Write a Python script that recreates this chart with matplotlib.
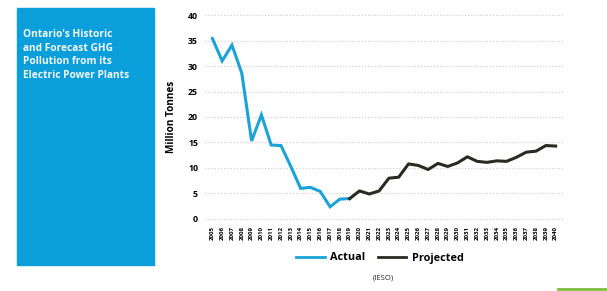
import numpy as np
import matplotlib.pyplot as plt
from matplotlib.patches import Rectangle
from matplotlib.lines import Line2D

plt.rcParams['font.family'] = ['Open Sans', 'DejaVu Sans']

years = list(range(2005, 2041))
actual_years = list(range(2005, 2020))
actual = [35.4, 31.0, 34.1, 28.6, 15.3, 20.4, 14.5, 14.4, 10.3, 6.0,
          6.2, 5.4, 2.4, 3.9, 4.0]
proj_years = list(range(2019, 2041))
projected = [4.0, 5.5, 4.9, 5.5, 8.0, 8.2, 10.8, 10.5, 9.7, 10.9,
             10.3, 11.0, 12.2, 11.3, 11.1, 11.4, 11.3, 12.1, 13.1, 13.3,
             14.4, 14.3]
y_ticks = [0, 5, 10, 15, 20, 25, 30, 35, 40]

title = "Ontario's Historic\nand Forecast GHG\nPollution from its\nElectric Power Plants"

blue = '#1ba3d8'
box_blue = '#0a9fda'
dark = '#2b2a20'

W, H = 607, 291
fig = plt.figure(figsize=(W / 100, H / 100), dpi=100)

# side panel with title
fig.patches.append(Rectangle((17 / W, 1 - 265 / H), 137 / W, 257 / H,
                             transform=fig.transFigure, color=box_blue, zorder=0))
fig.text(23 / W, 1 - 29 / H, title, color='#f4f8fb', fontsize=7.3, fontweight='bold',
         va='top', ha='left', linespacing=1.32)

ax = fig.add_axes([205 / W, 1 - 220 / H, 358 / W, 206 / H])
ax.plot(actual_years, actual, color=blue, lw=2.2, solid_joinstyle='miter', zorder=3)
ax.plot(proj_years, projected, color=dark, lw=2.2, zorder=3)

ax.set_xlim(2005 - 0.75, 2040 + 0.75)
ax.set_ylim(-0.2, 40.2)
ax.set_yticks(y_ticks)
ax.set_xticks(years)
ax.set_xticklabels([str(y) for y in years], rotation=90, fontsize=4.4, fontweight='bold')
for lab in ax.get_yticklabels():
    lab.set_fontweight('bold')
    lab.set_fontsize(6.3)
ax.tick_params(length=0, pad=5)
ax.tick_params(axis='x', pad=4)
for s in ax.spines.values():
    s.set_visible(False)
ax.grid(axis='y', color='#d0d0d0', lw=0.9, linestyle=(0, (1, 1.5)))
ax.set_axisbelow(True)
ax.set_ylabel('Million Tonnes', fontsize=7.2, fontweight='bold', labelpad=8)

handles = [Line2D([], [], color=blue, lw=2), Line2D([], [], color=dark, lw=2)]
fig.legend(handles, ['Actual', 'Projected'], loc='center', ncol=2,
           bbox_to_anchor=(380 / W, 1 - 258 / H), frameon=False,
           prop={'weight': 'bold', 'size': 7.8}, handlelength=2.6,
           columnspacing=1.2, handletextpad=0.5)

fig.text(383 / W, 1 - 278 / H, '(IESO)', fontsize=5.5, ha='center', va='center',
         color='#222222')

fig.add_artist(Line2D([558 / W, 1], [1 - 289 / H, 1 - 289 / H],
                      transform=fig.transFigure, color='#7cbf3c', lw=2))

fig.savefig('out.png', dpi=100)
